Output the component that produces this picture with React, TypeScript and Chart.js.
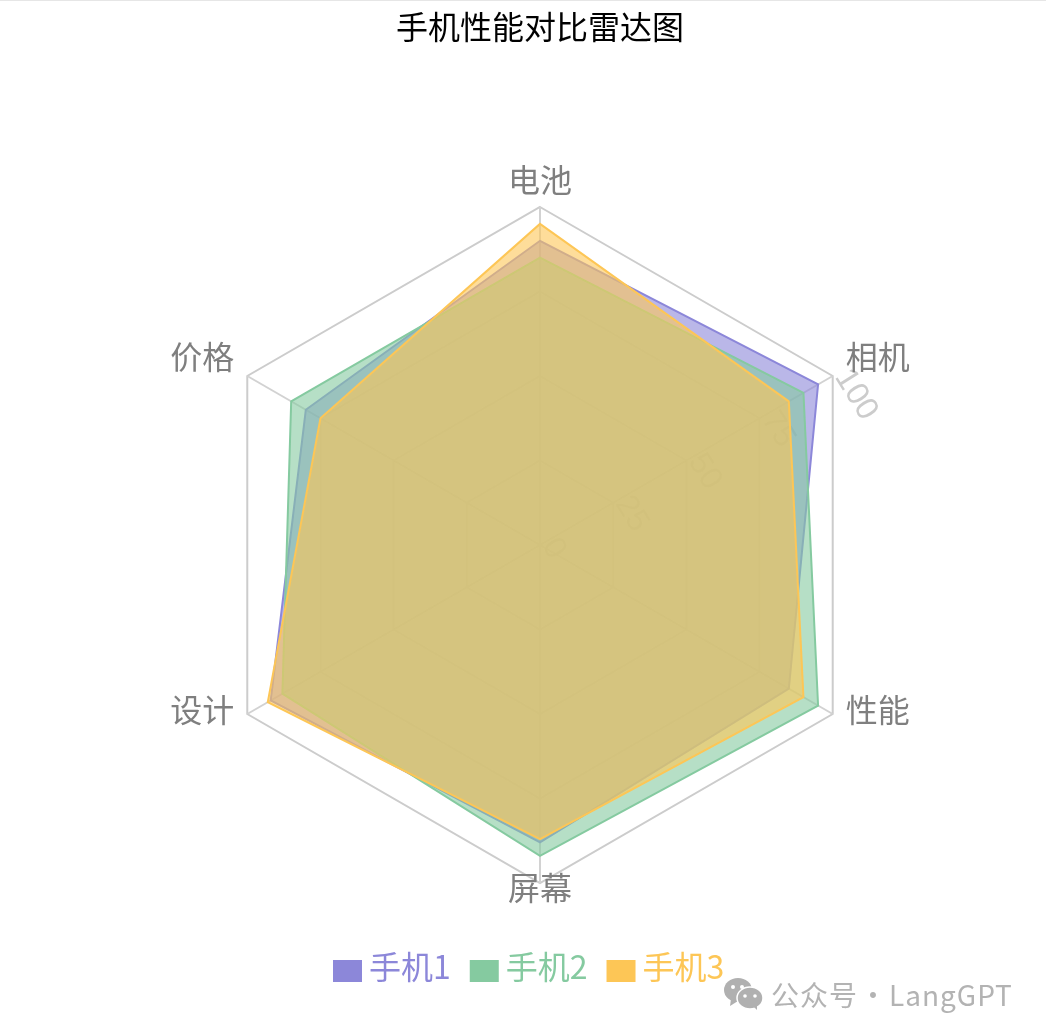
import { useEffect, useRef } from 'react';
import { Chart, registerables } from 'chart.js';

Chart.register(...registerables);

const categories = ['电池', '相机', '性能', '屏幕', '设计', '价格'];
const phone1 = [90, 95, 85, 88, 92, 80];
const phone2 = [85, 90, 95, 92, 88, 85];
const phone3 = [95, 85, 90, 87, 93, 75];
const seriesNames = ['手机1', '手机2', '手机3'];
const seriesColors = ['#8c87d9', '#85caa0', '#fdc656'];
const tickValues = [0, 25, 50, 75, 100];

const CJK_FONT = '"Noto Sans CJK SC", "Noto Sans", sans-serif';

// tick numbers sit along the 相机 axis and are turned with it, below the datasets
const rotatedTicks = {
  id: 'rotatedTicks',
  beforeDatasetsDraw(chart: any) {
    const { ctx } = chart;
    const scale = chart.scales.r;
    ctx.save();
    ctx.font = `32px "Liberation Sans", Arial, sans-serif`;
    ctx.fillStyle = '#cccccc';
    ctx.textAlign = 'left';
    ctx.textBaseline = 'middle';
    tickValues.forEach((value) => {
      const p = scale.getPointPositionForValue(1, value);
      ctx.save();
      ctx.translate(p.x + 9, p.y - 4);
      ctx.rotate((58 * Math.PI) / 180);
      ctx.fillText(String(value), 0, 0);
      ctx.restore();
    });
    ctx.restore();
  },
};

// category names, placed like the original rather than how pointLabels would do it
const axisNames = {
  id: 'axisNames',
  afterDraw(chart: any) {
    const { ctx } = chart;
    const scale = chart.scales.r;
    ctx.save();
    ctx.font = `32px ${CJK_FONT}`;
    ctx.fillStyle = '#7f7f7f';
    ctx.textBaseline = 'middle';
    categories.forEach((name, i) => {
      const p = scale.getPointPosition(i, scale.drawingArea + 15);
      if (i === 0 || i === 3) ctx.textAlign = 'center';
      else ctx.textAlign = i < 3 ? 'left' : 'right';
      ctx.fillText(name, p.x, p.y - (i === 3 ? 10 : 12));
    });
    ctx.restore();
  },
};

// legend with colored text and a tighter box-to-text gap than the built-in one
const phoneLegend = {
  id: 'phoneLegend',
  afterDraw(chart: any) {
    const { ctx } = chart;
    ctx.save();
    ctx.font = `32px ${CJK_FONT}`;
    ctx.textAlign = 'left';
    ctx.textBaseline = 'middle';
    let x = 333;
    seriesNames.forEach((name, i) => {
      ctx.fillStyle = seriesColors[i];
      ctx.fillRect(x, 960, 29, 22);
      ctx.fillText(name, x + 36, 967);
      x += 36 + ctx.measureText(name).width + 19;
    });
    ctx.restore();
  },
};

function hexToFill(hex: string) {
  const r = parseInt(hex.slice(1, 3), 16);
  const g = parseInt(hex.slice(3, 5), 16);
  const b = parseInt(hex.slice(5, 7), 16);
  return `rgba(${r}, ${g}, ${b}, 0.6)`;
}

export default function App() {
  const chartRef = useRef<HTMLCanvasElement>(null);

  useEffect(() => {
    if (!chartRef.current) return;
    const values = [phone1, phone2, phone3];
    const chart = new Chart(chartRef.current, {
      type: 'radar',
      data: {
        labels: categories,
        datasets: seriesNames.map((name, i) => ({
          label: name,
          data: values[i],
          borderColor: seriesColors[i],
          backgroundColor: hexToFill(seriesColors[i]),
          borderWidth: 2,
          pointRadius: 0,
          fill: true,
          order: 2 - i, // last phone on top
        })),
      },
      options: {
        responsive: false,
        animation: false,
        layout: { padding: { left: 202, right: 168, top: 0, bottom: 153 } },
        scales: {
          r: {
            min: 0,
            max: 100,
            ticks: { stepSize: 25, display: false },
            // inner rings only show through the fills, and only faintly
            grid: {
              color: (c: any) => (c.tick && c.tick.value === 100 ? '#cccccc' : '#d8d8d8'),
              lineWidth: 2,
            },
            angleLines: { color: '#d2d2d2', lineWidth: 2 },
            pointLabels: { display: false },
          },
        },
        plugins: {
          legend: { display: false },
          tooltip: { enabled: false },
          title: {
            display: true,
            text: '手机性能对比雷达图',
            color: '#000000',
            font: { family: CJK_FONT, size: 32, weight: 'normal', lineHeight: 1.2 },
            padding: { top: 8, bottom: 160.6 },
          },
        },
      },
      plugins: [rotatedTicks, axisNames, phoneLegend],
    });
    return () => chart.destroy();
  }, []);

  return (
    <div style={{ position: 'absolute', left: 0, top: 0, width: 1046, height: 1036, overflow: 'hidden', background: '#fff' }}>
      <canvas ref={chartRef} width={1046} height={1036} style={{ display: 'block' }}></canvas>
      <div style={{ position: 'absolute', left: 0, top: 0, width: 1046, height: 1, background: '#e6e6e6' }}></div>
      <svg width="40" height="34" viewBox="0 0 40 34" style={{ position: 'absolute', left: 723, top: 977 }}>
        <ellipse cx="15" cy="13" rx="14" ry="12" fill="#b0b0b0" />
        <polygon points="8,22 7,29 15,24" fill="#b0b0b0" />
        <ellipse cx="27" cy="21" rx="13" ry="11" fill="#b0b0b0" stroke="#fff" strokeWidth="1.5" />
        <polygon points="31,30 34,33 34,27" fill="#b0b0b0" />
        <circle cx="10" cy="10" r="2" fill="#fff" />
        <circle cx="19" cy="10" r="2" fill="#fff" />
        <circle cx="22" cy="19" r="1.8" fill="#fff" />
        <circle cx="32" cy="19" r="1.8" fill="#fff" />
      </svg>
      <div style={{ position: 'absolute', left: 771, top: 975, fontFamily: CJK_FONT, fontSize: 28, lineHeight: '38px', color: '#b3b3b3', whiteSpace: 'nowrap', letterSpacing: 1 }}>
        公众号
      </div>
      <div style={{ position: 'absolute', left: 859, top: 975, fontFamily: CJK_FONT, fontSize: 28, lineHeight: '38px', color: '#b3b3b3', whiteSpace: 'nowrap' }}>
        ·
      </div>
      <div style={{ position: 'absolute', left: 889, top: 975, fontFamily: CJK_FONT, fontSize: 28, lineHeight: '38px', color: '#b3b3b3', whiteSpace: 'nowrap', letterSpacing: 1 }}>
        LangGPT
      </div>
    </div>
  );
}
